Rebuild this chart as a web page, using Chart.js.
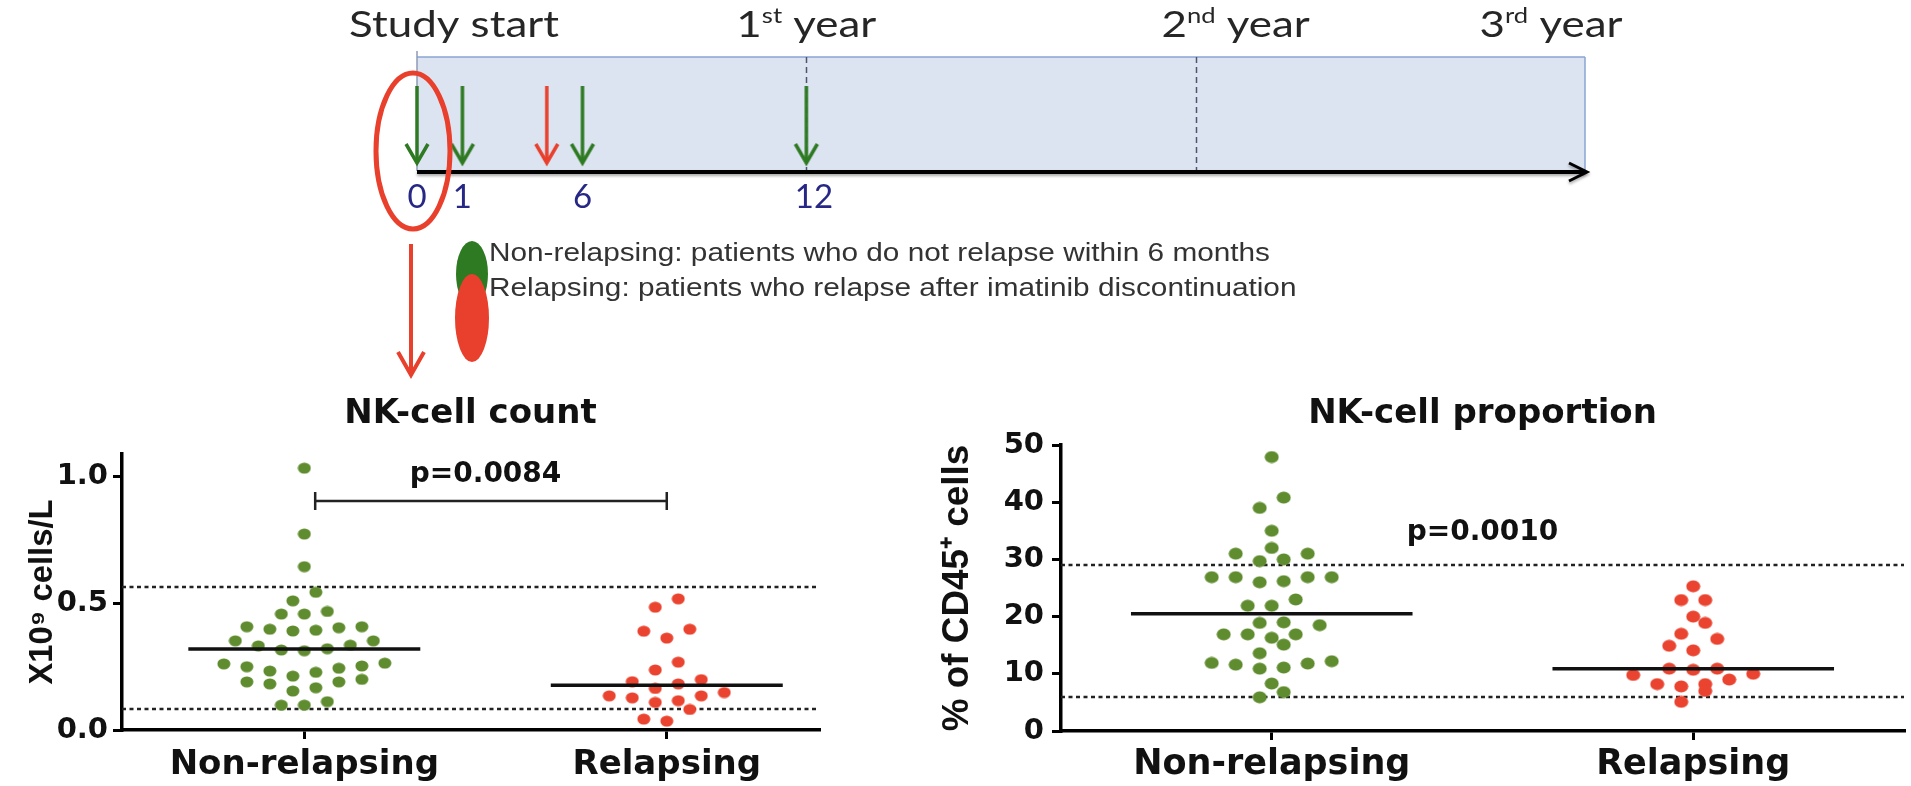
<!DOCTYPE html>
<html><head><meta charset="utf-8">
<script src="https://cdn.jsdelivr.net/npm/chart.js@4.4.1/dist/chart.umd.min.js"></script>
<style>
html,body{margin:0;padding:0;background:#fff;overflow:hidden;width:1911px;height:786px;}
canvas{position:absolute;display:block;}
</style></head><body>
<canvas id="timeline" width="1911" height="390" style="left:0;top:0"></canvas>
<canvas id="countChart" width="880" height="396" style="left:0;top:390px"></canvas>
<canvas id="propChart" width="981" height="396" style="left:930px;top:390px"></canvas>
<script>
// ================= DATA =================
const categories = ['Non-relapsing', 'Relapsing'];

// NK-cell count (x10^9 cells/L)
const countNonRelapsing = [1.034, 0.774, 0.645, 0.544, 0.510, 0.458, 0.458, 0.468,
  0.408, 0.398, 0.391, 0.394, 0.404, 0.408,
  0.352, 0.332, 0.316, 0.313, 0.321, 0.335, 0.352,
  0.261, 0.250, 0.233, 0.244, 0.253, 0.264, 0.213, 0.228,
  0.190, 0.182, 0.167, 0.190, 0.200, 0.154, 0.112, 0.098, 0.098];
const countRelapsing = [0.518, 0.485, 0.398, 0.390, 0.363, 0.268, 0.237, 0.199, 0.191, 0.182,
  0.164, 0.148, 0.135, 0.135, 0.116, 0.109, 0.127, 0.081, 0.035, 0.043];
const countMedians = [0.320, 0.177];
const countRefLines = [0.083, 0.566];
const countPValue = 'p=0.0084';
const countTicks = [0, 0.5, 1.0];

// NK-cell proportion (% of CD45+ cells)
const propNonRelapsing = [47.9, 40.8, 39.0, 35.0, 32.0, 31.0, 31.0, 29.7, 30.0,
  26.9, 26.9, 26.2, 26.0, 26.9, 26.9, 23.0, 21.9, 21.9, 18.9, 18.5, 19.0,
  16.9, 16.9, 16.3, 16.9, 15.1, 13.6, 12.2, 11.8, 11.1, 10.9, 11.6, 11.9, 8.3, 5.9, 6.8];
const propRelapsing = [25.3, 22.9, 22.9, 20.0, 18.9, 17.0, 16.1, 14.9, 14.1,
  10.9, 10.7, 9.8, 10.0, 10.9, 8.2, 7.8, 9.0, 8.2, 7.0, 5.1];
const propMedians = [20.5, 10.9];
const propRefLines = [6, 29];
const propPValue = 'p=0.0010';
const propTicks = [0, 10, 20, 30, 40, 50];

// Timeline (months)
const yearMonths = [0, 12, 24, 36];
const yearBase = ['Study start', '1', '2', '3'];
const yearSup = ['', 'st', 'nd', 'rd'];
const yearTail = ['', ' year', ' year', ' year'];
const sampleLabels = ['0', '1', '6', '12'];
const samplePositions = [0, 1.4, 5.1, 12];
const relapsePositions = [4.0];
const legendLines = ['Non-relapsing: patients who do not relapse within 6 months',
  'Relapsing: patients who relapse after imatinib discontinuation'];

// ================= STYLE =================
const GREEN = '#5f8c2e', RED = '#ea4430';
const ARROW_GREEN = '#2e7a22', ARROW_RED = '#e8402c';
const BOLD = 'DejaVu Sans';
function hasFont(name) {
  const c = document.createElement('canvas').getContext('2d');
  const s = 'abcdefgHIJKL cells 0123';
  c.font = '40px monospace'; const a = c.measureText(s).width;
  c.font = '40px "' + name + '", monospace'; const b = c.measureText(s).width;
  return Math.abs(a - b) > 0.5;
}
const NARROW_OK = hasFont('Liberation Sans Narrow');
const NARROW = NARROW_OK ? 'Liberation Sans Narrow' : 'Liberation Sans';
const NSCALE = NARROW_OK ? 1 : 0.82;

Chart.defaults.font.family = BOLD;
Chart.defaults.color = '#111';

function dotCanvas(color, w, h) {
  const c = document.createElement('canvas'); c.width = w; c.height = h;
  const g = c.getContext('2d'); g.fillStyle = color;
  g.beginPath(); g.ellipse(w / 2, h / 2, w / 2 - 0.5, h / 2 - 0.5, 0, 0, Math.PI * 2); g.fill();
  return c;
}
function arrowCanvas(color) {
  const c = document.createElement('canvas'); c.width = 30; c.height = 86;
  const g = c.getContext('2d'); g.strokeStyle = color; g.lineWidth = 3.5;
  g.beginPath(); g.moveTo(15, 2); g.lineTo(15, 78); g.stroke();
  g.beginPath(); g.moveTo(4, 60); g.lineTo(15, 79); g.lineTo(26, 60); g.stroke();
  return c;
}
function stretchText(ctx, text, x, y, sx, align) {
  const w = ctx.measureText(text).width * sx;
  const left = align === 'center' ? x - w / 2 : (align === 'right' ? x - w : x);
  ctx.save(); ctx.translate(left, y); ctx.scale(sx, 1); ctx.textAlign = 'left';
  ctx.fillText(text, 0, 0); ctx.restore();
  return w;
}

// ================= TIMELINE =================
const ARROW_Y = 0.386;
const timelinePlugin = {
  id: 'timelineDeco',
  beforeDatasetsDraw(chart) {
    const {ctx, chartArea: a, scales: {x}} = chart;
    const line = (x1, y1, x2, y2) => { ctx.beginPath(); ctx.moveTo(x1, y1); ctx.lineTo(x2, y2); ctx.stroke(); };
    ctx.save();
    ctx.fillStyle = '#dde4f1'; ctx.fillRect(a.left, a.top, a.right - a.left, a.bottom - a.top);
    ctx.strokeStyle = '#8aa5d3'; ctx.lineWidth = 1.5;
    line(a.left, a.top, a.right, a.top);
    line(a.right, a.top, a.right, a.bottom);
    ctx.strokeStyle = '#8e9ab4'; line(a.left, a.top - 6, a.left, a.bottom);
    ctx.strokeStyle = '#4b566e'; ctx.setLineDash([6, 4]);
    yearMonths.slice(1, -1).forEach(m => { const px = Math.round(x.getPixelForValue(m)) + 0.5; line(px, a.top, px, a.bottom); });
    ctx.setLineDash([]);
    ctx.shadowColor = 'rgba(0,0,0,0.35)'; ctx.shadowBlur = 3; ctx.shadowOffsetY = 2;
    ctx.strokeStyle = '#000'; ctx.lineWidth = 4;
    line(a.left, a.bottom + 1, a.right, a.bottom + 1);
    ctx.lineWidth = 3;
    ctx.beginPath(); ctx.moveTo(a.right - 16, a.bottom - 8); ctx.lineTo(a.right + 2, a.bottom + 1); ctx.lineTo(a.right - 16, a.bottom + 10); ctx.stroke();
    ctx.restore();
  },
  afterDatasetsDraw(chart) {
    const {ctx, scales: {x}} = chart;
    const x0 = x.getPixelForValue(0);
    ctx.save();
    // red ellipse around the baseline sample
    ctx.strokeStyle = ARROW_RED; ctx.lineWidth = 5;
    ctx.beginPath(); ctx.ellipse(x0 - 4, 151, 37, 78, 0, 0, Math.PI * 2); ctx.stroke();
    // red arrow down to the charts
    const ax = x0 - 6;
    ctx.lineWidth = 4;
    ctx.beginPath(); ctx.moveTo(ax, 244); ctx.lineTo(ax, 373); ctx.stroke();
    ctx.beginPath(); ctx.moveTo(ax - 13, 352); ctx.lineTo(ax, 375); ctx.lineTo(ax + 13, 352); ctx.stroke();
    // month labels
    ctx.fillStyle = '#272785'; ctx.font = '33px Lato'; ctx.textBaseline = 'alphabetic';
    sampleLabels.forEach((t, i) => {
      const w = ctx.measureText(t).width;
      const cx = x.getPixelForValue(samplePositions[i]) + (t.length > 1 ? w * 0.2 : 0);
      stretchText(ctx, t, cx, 208, 1.0, 'center');
    });
    // year labels
    const nudges = [37, 0, 40, -34];
    ctx.fillStyle = '#262626';
    yearMonths.forEach((m, i) => {
      const sx = 1.22;
      ctx.font = '36px Lato'; const wb = ctx.measureText(yearBase[i]).width;
      const wt = ctx.measureText(yearTail[i]).width;
      ctx.font = '21px Lato'; const ws = ctx.measureText(yearSup[i]).width;
      const W = (wb + ws + wt) * sx;
      let cx = x.getPixelForValue(m) + nudges[i] - W / 2;
      ctx.font = '36px Lato'; cx += stretchText(ctx, yearBase[i], cx, 37, sx, 'left');
      if (yearSup[i]) { ctx.font = '21px Lato'; cx += stretchText(ctx, yearSup[i], cx, 23, sx, 'left'); }
      if (yearTail[i]) { ctx.font = '36px Lato'; stretchText(ctx, yearTail[i], cx, 37, sx, 'left'); }
    });
    // legend ellipses
    ctx.fillStyle = ARROW_GREEN;
    ctx.beginPath(); ctx.ellipse(x0 + 55, 274, 16, 33, 0, 0, Math.PI * 2); ctx.fill();
    ctx.fillStyle = ARROW_RED;
    ctx.beginPath(); ctx.ellipse(x0 + 55, 318, 17, 44, 0, 0, Math.PI * 2); ctx.fill();
    // legend text
    ctx.fillStyle = '#333'; ctx.font = '25px "Liberation Sans"';
    const sxl = 781 / ctx.measureText(legendLines[0]).width;
    stretchText(ctx, legendLines[0], x0 + 72, 261, sxl, 'left');
    stretchText(ctx, legendLines[1], x0 + 72, 296, sxl, 'left');
    ctx.restore();
  }
};

new Chart(document.getElementById('timeline'), {
  type: 'scatter',
  data: {datasets: [
    {data: samplePositions.map(m => ({x: m, y: ARROW_Y})), pointStyle: arrowCanvas(ARROW_GREEN), pointRadius: 10, clip: false},
    {data: relapsePositions.map(m => ({x: m, y: ARROW_Y})), pointStyle: arrowCanvas(ARROW_RED), pointRadius: 10, clip: false}
  ]},
  options: {
    responsive: false, animation: false, events: [],
    layout: {padding: {left: 417, right: 326, top: 57, bottom: 219}},
    scales: {x: {type: 'linear', min: 0, max: 36, display: false}, y: {min: 0, max: 1, display: false}},
    plugins: {legend: {display: false}, tooltip: {enabled: false}}
  },
  plugins: [timelinePlugin]
});

// ================= DOT PLOTS =================
function swarmOffsets(values, pxPerUnit, rowPx, stepPx) {
  const idx = values.map((v, i) => i).sort((a, b) => values[a] - values[b]);
  const off = new Array(values.length).fill(0);
  let row = [], start = null;
  const flush = () => {
    const n = row.length, pos = [];
    for (let k = 0; k < n; k++) pos.push((k - (n - 1) / 2) * stepPx);
    pos.sort((a, b) => Math.abs(a) - Math.abs(b) || a - b);
    row.forEach((id, k) => { off[id] = pos[k]; });
    row = [];
  };
  for (const id of idx) {
    if (row.length && (values[id] - start) * pxPerUnit > rowPx) flush();
    if (!row.length) start = values[id];
    row.push(id);
  }
  flush();
  return off;
}

const annotatePlugin = {
  id: 'annotate',
  beforeDatasetsDraw(chart, args, o) {
    const {ctx, chartArea: a, scales: {y}} = chart;
    ctx.save(); ctx.strokeStyle = '#222'; ctx.lineWidth = 2.5; ctx.setLineDash([4, 3.5]);
    o.refLines.forEach(v => { const py = Math.round(y.getPixelForValue(v)); ctx.beginPath(); ctx.moveTo(a.left, py); ctx.lineTo(a.right, py); ctx.stroke(); });
    ctx.restore();
  },
  afterDatasetsDraw(chart, args, o) {
    const {ctx, scales: {x, y}} = chart;
    ctx.save();
    if (o.bracket) {
      const [x1, x2, yv] = o.bracket;
      const px1 = x.getPixelForValue(x1), px2 = x.getPixelForValue(x2), py = Math.round(y.getPixelForValue(yv));
      ctx.strokeStyle = '#222'; ctx.lineWidth = 2.5;
      ctx.beginPath(); ctx.moveTo(px1, py); ctx.lineTo(px2, py);
      ctx.moveTo(px1, py - 9); ctx.lineTo(px1, py + 9); ctx.moveTo(px2, py - 9); ctx.lineTo(px2, py + 9); ctx.stroke();
    }
    ctx.fillStyle = '#111'; ctx.font = 'bold 28px "' + BOLD + '"'; ctx.textAlign = 'center'; ctx.textBaseline = 'middle';
    ctx.fillText(o.pText, x.getPixelForValue(o.pPos[0]), y.getPixelForValue(o.pPos[1]));
    ctx.restore();
  }
};

function medianDataset(c, m, hw) {
  return {data: [{x: c - hw, y: m}, {x: c + hw, y: m}], showLine: true, borderColor: '#111', borderWidth: 3.5, pointRadius: 0, clip: false};
}

function buildDotChart(id, o) {
  const axisGrid = {display: true, drawOnChartArea: false, drawTicks: true, tickLength: 9, color: '#000', lineWidth: 3};
  const axisBorder = {display: true, color: '#000', width: 3.5};
  const chart = new Chart(document.getElementById(id), {
    type: 'scatter',
    data: {datasets: [
      medianDataset(1, o.medians[0], o.medHW), medianDataset(2, o.medians[1], o.medHW),
      {data: o.groups[0].map(v => ({x: 1, y: v})), pointStyle: dotCanvas(GREEN, o.dotW, o.dotH), pointRadius: 6, clip: false},
      {data: o.groups[1].map(v => ({x: 2, y: v})), pointStyle: dotCanvas(RED, o.dotW, o.dotH), pointRadius: 6, clip: false}
    ]},
    options: {
      responsive: false, animation: false, events: [],
      layout: {padding: o.padding},
      scales: {
        x: {type: 'linear', min: o.xMin, max: o.xMax,
          afterBuildTicks: s => { s.ticks = [{value: 1}, {value: 2}]; },
          ticks: {callback: v => categories[v - 1] || '', font: {family: BOLD, weight: 'bold', size: o.catSize}, color: '#111', padding: o.catPad, maxRotation: 0, autoSkip: false},
          grid: axisGrid, border: axisBorder,
          afterFit: s => { s.height = o.xAxisH; }},
        y: {min: 0, max: o.yMax,
          afterBuildTicks: s => { s.ticks = o.ticks.map(v => ({value: v})); },
          ticks: {callback: o.tickFmt, font: {family: BOLD, weight: 'bold', size: 29}, color: '#111', padding: o.tickPad},
          grid: axisGrid, border: axisBorder,
          title: {display: true, text: o.yTitle, color: '#111', font: {family: NARROW, weight: 'bold', size: o.yTitleSize * NSCALE, lineHeight: 1}, padding: {top: o.yTitlePad, bottom: 0}},
          afterFit: s => { s.width = o.yAxisW; }}
      },
      plugins: {
        legend: {display: false}, tooltip: {enabled: false},
        title: {display: true, text: o.title, fullSize: false, color: '#111', font: {family: BOLD, weight: 'bold', size: 34, lineHeight: 1.2}, padding: {top: 0, bottom: o.titlePadB}},
        annotate: {refLines: o.refLines, bracket: o.bracket, pText: o.pText, pPos: o.pPos}
      }
    },
    plugins: [annotatePlugin]
  });
  const xs = chart.scales.x, ys = chart.scales.y;
  const pxX = xs.getPixelForValue(2) - xs.getPixelForValue(1);
  const pxY = Math.abs(ys.getPixelForValue(0) - ys.getPixelForValue(o.ticks[1])) / o.ticks[1];
  o.groups.forEach((vals, g) => {
    const off = swarmOffsets(vals, pxY, o.rowPx, o.stepPx);
    chart.data.datasets[2 + g].data = vals.map((v, i) => ({x: g + 1 + off[i] / pxX, y: v}));
  });
  chart.update('none');
  return chart;
}

buildDotChart('countChart', {
  groups: [countNonRelapsing, countRelapsing], medians: countMedians, medHW: 0.32,
  refLines: countRefLines, bracket: [1.03, 2.0, 0.905], pText: countPValue, pPos: [1.5, 1.01],
  ticks: countTicks, tickFmt: v => v.toFixed(1), yMax: 1.09, xMin: 0.497, xMax: 2.42,
  title: 'NK-cell count', titlePadB: 19.2, yTitle: 'X10⁹ cells/L', yTitleSize: 40, yTitlePad: 27,
  padding: {left: 0, right: 61, top: 4, bottom: 0}, yAxisW: 122, xAxisH: 56, catSize: 34, catPad: 5.6, tickPad: 5,
  dotW: 14, dotH: 12, rowPx: 13, stepPx: 23
});

buildDotChart('propChart', {
  groups: [propNonRelapsing, propRelapsing], medians: propMedians, medHW: 0.334,
  refLines: propRefLines, bracket: null, pText: propPValue, pPos: [1.5, 34.6],
  ticks: propTicks, tickFmt: v => String(v), yMax: 50, xMin: 0.5, xMax: 2.5,
  title: 'NK-cell proportion', titlePadB: 10.2, yTitle: '% of CD45⁺ cells', yTitleSize: 45, yTitlePad: 9.5,
  padding: {left: 0, right: 0, top: 4, bottom: 0}, yAxisW: 131, xAxisH: 55, catSize: 35, catPad: 4, tickPad: 8,
  dotW: 15, dotH: 13, rowPx: 13, stepPx: 24
});
</script>
</body></html>
